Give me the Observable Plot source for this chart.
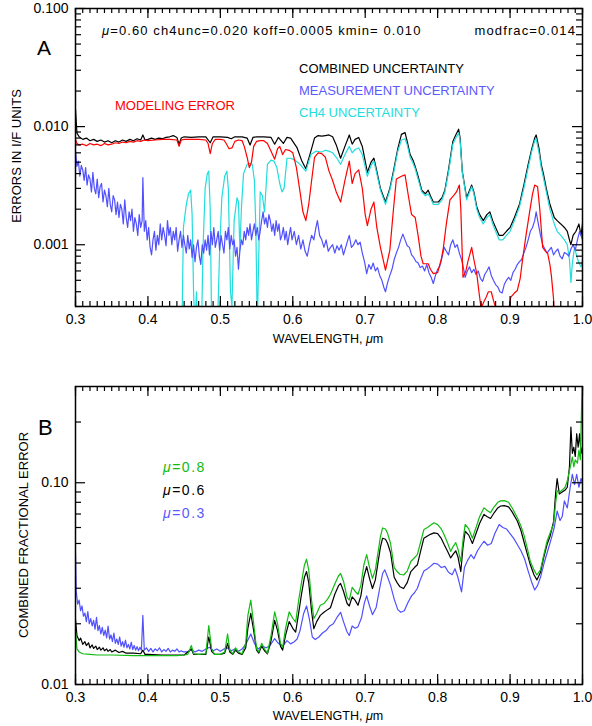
<!DOCTYPE html>
<html><head><meta charset="utf-8">
<script src="https://cdn.jsdelivr.net/npm/d3@7"></script>
<script src="https://cdn.jsdelivr.net/npm/@observablehq/plot@0.6"></script>
<style>
body{margin:0;background:#fff;}
#wrap{position:relative;width:592px;height:726px;overflow:hidden;background:#fff}
#pa{position:absolute;left:0;top:0}
#pb{position:absolute;left:0;top:350px}
#ov{position:absolute;left:0;top:0}
#ov text{font-family:"Liberation Sans",Arial,sans-serif;white-space:pre}
</style></head><body><div id="wrap"><div id="pa"></div><div id="pb"></div>
<svg id="ov" width="592" height="726">
 <text x="37" y="55" font-size="21">A</text>
 <text x="102" y="35" font-size="13" letter-spacing="1.1"><tspan font-style="italic">μ</tspan>=0.60 ch4unc=0.020 koff=0.0005 kmin= 0.010</text>
 <text x="576" y="35" font-size="13" letter-spacing="1.1" text-anchor="end">modfrac=0.014</text>
 <text x="299" y="73" font-size="13" fill="#000">COMBINED UNCERTAINTY</text>
 <text x="299" y="95" font-size="13" fill="#5a5aff">MEASUREMENT UNCERTAINTY</text>
 <text x="299" y="117" font-size="13" fill="#22dddd">CH4 UNCERTAINTY</text>
 <text x="115" y="110" font-size="13" fill="#ff0000">MODELING ERROR</text>
 <text x="328" y="343" font-size="12.5" text-anchor="middle">WAVELENGTH, <tspan font-style="italic">μ</tspan>m</text>
 <text transform="translate(21,156) rotate(-90)" font-size="13" text-anchor="middle">ERRORS IN I/F UNITS</text>
 <text x="38" y="435" font-size="22">B</text>
 <text x="163" y="472" font-size="14" letter-spacing="1.5" fill="#11bb11"><tspan font-style="italic">μ</tspan>=0.8</text>
 <text x="163" y="495" font-size="14" letter-spacing="1.5" fill="#000"><tspan font-style="italic">μ</tspan>=0.6</text>
 <text x="163" y="518" font-size="14" letter-spacing="1.5" fill="#5a5aff"><tspan font-style="italic">μ</tspan>=0.3</text>
 <text x="328" y="720" font-size="12.5" text-anchor="middle">WAVELENGTH, <tspan font-style="italic">μ</tspan>m</text>
 <text transform="translate(28,535) rotate(-90)" font-size="13" text-anchor="middle">COMBINED FRACTIONAL ERROR</text>
</svg>
</div>
<script>
// ---------- tick labels ----------
const xTickLabels = [0.3,0.4,0.5,0.6,0.7,0.8,0.9,1.0];
const yTicksA = [0.001,0.01,0.1];
const yMinorA = [0.0003,0.0004,0.0005,0.0006,0.0007,0.0008,0.0009,0.002,0.003,0.004,0.005,0.006,0.007,0.008,0.009,0.02,0.03,0.04,0.05,0.06,0.07,0.08,0.09];
const yTicksB = [0.01,0.1];
const yMinorB = [0.02,0.03,0.04,0.05,0.06,0.07,0.08,0.09,0.2];

// ---------- Panel A series: [wavelength (µm), error in I/F] ----------
const combinedA = [[0.300,0.0140],[0.302,0.0088],[0.305,0.0082],[0.31,0.0078],[0.315,0.0080],[0.32,0.0076],[0.325,0.0078],[0.33,0.0075],[0.335,0.0077],[0.34,0.0074],[0.345,0.0076],[0.35,0.0073],[0.355,0.0076],[0.36,0.0074],[0.365,0.0077],[0.37,0.0075],[0.375,0.0078],[0.38,0.0076],[0.385,0.0079],[0.39,0.0077],[0.393,0.0085],[0.396,0.0077],[0.40,0.0078],[0.405,0.0080],[0.41,0.0078],[0.415,0.0080],[0.42,0.0079],[0.425,0.0081],[0.43,0.0082],[0.435,0.0084],[0.44,0.0081],[0.443,0.0071],[0.446,0.0080],[0.45,0.0082],[0.46,0.0081],[0.47,0.0082],[0.48,0.0082],[0.486,0.0073],[0.49,0.0082],[0.50,0.0082],[0.51,0.0081],[0.515,0.0079],[0.52,0.0082],[0.53,0.0082],[0.537,0.0080],[0.541,0.0070],[0.545,0.0081],[0.55,0.0082],[0.56,0.0082],[0.57,0.0081],[0.575,0.0071],[0.58,0.0081],[0.587,0.0072],[0.592,0.0081],[0.597,0.0080],[0.606,0.0066],[0.612,0.0052],[0.618,0.0044],[0.625,0.0062],[0.630,0.0080],[0.635,0.0084],[0.640,0.0083],[0.645,0.0084],[0.650,0.0085],[0.655,0.0082],[0.660,0.0070],[0.666,0.0054],[0.672,0.0068],[0.678,0.0085],[0.682,0.0071],[0.686,0.0078],[0.691,0.0081],[0.696,0.0068],[0.703,0.0041],[0.708,0.0050],[0.712,0.0054],[0.716,0.0042],[0.721,0.0030],[0.728,0.0023],[0.734,0.0030],[0.739,0.0042],[0.745,0.0065],[0.750,0.0086],[0.755,0.0089],[0.758,0.0075],[0.762,0.0058],[0.766,0.0052],[0.769,0.0046],[0.773,0.0038],[0.778,0.0029],[0.783,0.0027],[0.787,0.0029],[0.790,0.0026],[0.794,0.0023],[0.801,0.0023],[0.806,0.0025],[0.810,0.0029],[0.815,0.0043],[0.821,0.0075],[0.825,0.0085],[0.829,0.0095],[0.831,0.0080],[0.834,0.0042],[0.840,0.0025],[0.847,0.0032],[0.850,0.0028],[0.854,0.0021],[0.858,0.0018],[0.863,0.0016],[0.868,0.0018],[0.872,0.0019],[0.876,0.0016],[0.880,0.0014],[0.885,0.0012],[0.890,0.0012],[0.895,0.0013],[0.900,0.0014],[0.906,0.0017],[0.913,0.0022],[0.919,0.0032],[0.925,0.0048],[0.930,0.0065],[0.934,0.0080],[0.936,0.0085],[0.940,0.0065],[0.943,0.0048],[0.946,0.0040],[0.950,0.0030],[0.955,0.0022],[0.961,0.0017],[0.965,0.0016],[0.970,0.0015],[0.975,0.0014],[0.979,0.0013],[0.982,0.0011],[0.984,0.0010],[0.987,0.0012],[0.991,0.0013],[0.995,0.0015],[0.998,0.0012],[1.000,0.0015]];

const ch4A = [[0.447,0.0002],[0.449,0.0014],[0.453,0.0022],[0.456,0.0027],[0.459,0.0029],[0.461,0.0018],[0.463,0.0004],[0.465,0.0002],[0.467,0.0004],[0.469,0.0002],[0.472,0.0003],[0.474,0.0002],[0.476,0.0009],[0.479,0.0030],[0.482,0.0040],[0.484,0.0042],[0.486,0.0020],[0.488,0.0002],[0.492,0.0001],[0.496,0.0002],[0.499,0.0009],[0.502,0.0025],[0.506,0.0038],[0.509,0.0042],[0.511,0.0030],[0.514,0.0004],[0.516,0.0003],[0.519,0.0016],[0.523,0.0025],[0.525,0.0023],[0.527,0.0009],[0.529,0.0020],[0.532,0.0040],[0.537,0.0048],[0.541,0.0049],[0.544,0.0048],[0.547,0.0035],[0.549,0.0014],[0.551,0.0002],[0.553,0.0008],[0.555,0.0028],[0.558,0.0026],[0.561,0.0019],[0.565,0.0048],[0.57,0.0052],[0.574,0.0051],[0.578,0.0045],[0.582,0.0033],[0.585,0.0028],[0.588,0.0030],[0.592,0.0054],[0.597,0.0054],[0.603,0.0052],[0.610,0.0048],[0.618,0.0042],[0.625,0.0058],[0.632,0.0062],[0.640,0.0061],[0.645,0.0063],[0.650,0.0062],[0.655,0.0060],[0.660,0.0055],[0.666,0.0048],[0.672,0.0058],[0.678,0.0068],[0.682,0.0060],[0.686,0.0064],[0.691,0.0066],[0.696,0.0058],[0.703,0.0038],[0.708,0.0047],[0.712,0.0051],[0.716,0.0040],[0.721,0.0029],[0.728,0.0022],[0.734,0.0029],[0.739,0.0040],[0.745,0.0062],[0.750,0.0077],[0.755,0.0079],[0.758,0.0070],[0.762,0.0055],[0.766,0.0049],[0.769,0.0044],[0.773,0.0036],[0.778,0.0028],[0.783,0.0026],[0.787,0.0027],[0.790,0.0025],[0.794,0.0022],[0.801,0.0022],[0.806,0.0024],[0.810,0.0028],[0.815,0.0041],[0.821,0.0071],[0.825,0.0080],[0.829,0.0088],[0.831,0.0076],[0.834,0.0041],[0.840,0.0024],[0.847,0.0031],[0.850,0.0027],[0.854,0.0020],[0.858,0.0017],[0.863,0.0015],[0.868,0.0017],[0.872,0.0018],[0.876,0.0015],[0.880,0.0013],[0.885,0.0011],[0.890,0.0011],[0.895,0.0012],[0.900,0.0013],[0.906,0.0016],[0.913,0.0021],[0.919,0.0030],[0.925,0.0045],[0.930,0.0062],[0.934,0.0076],[0.936,0.0079],[0.940,0.0060],[0.943,0.0045],[0.946,0.0037],[0.950,0.0028],[0.955,0.0020],[0.961,0.0015],[0.965,0.0013],[0.970,0.0012],[0.975,0.0011],[0.979,0.0010],[0.982,0.00075],[0.984,0.00048],[0.986,0.0007],[0.989,0.00095],[0.992,0.0008],[0.995,0.0007],[0.998,0.00065],[1.000,0.00075]];

const modelA = [[0.300,0.0078],[0.302,0.0072],[0.305,0.0070],[0.31,0.0071],[0.315,0.0069],[0.32,0.0072],[0.325,0.0070],[0.33,0.0071],[0.335,0.0069],[0.34,0.0072],[0.345,0.0070],[0.35,0.0071],[0.355,0.0073],[0.36,0.0072],[0.365,0.0074],[0.37,0.0073],[0.375,0.0075],[0.38,0.0074],[0.385,0.0076],[0.39,0.0075],[0.395,0.0077],[0.40,0.0076],[0.41,0.0077],[0.42,0.0078],[0.43,0.0078],[0.44,0.0077],[0.443,0.0068],[0.446,0.0077],[0.45,0.0078],[0.46,0.0078],[0.47,0.0078],[0.48,0.0077],[0.483,0.0072],[0.486,0.0059],[0.489,0.0072],[0.493,0.0078],[0.50,0.0078],[0.505,0.0077],[0.508,0.0072],[0.512,0.0065],[0.516,0.0066],[0.52,0.0075],[0.525,0.0077],[0.53,0.0076],[0.533,0.0068],[0.537,0.0055],[0.540,0.0045],[0.543,0.0050],[0.546,0.0068],[0.55,0.0075],[0.555,0.0076],[0.56,0.0076],[0.565,0.0072],[0.57,0.0062],[0.575,0.0053],[0.579,0.0065],[0.582,0.0068],[0.586,0.0058],[0.590,0.0064],[0.595,0.0063],[0.600,0.0060],[0.605,0.0045],[0.610,0.0028],[0.614,0.0019],[0.618,0.0016],[0.622,0.0022],[0.626,0.0035],[0.630,0.0055],[0.635,0.0060],[0.640,0.0059],[0.645,0.0055],[0.650,0.0042],[0.655,0.0035],[0.660,0.0028],[0.666,0.0023],[0.672,0.0035],[0.678,0.0051],[0.682,0.0033],[0.686,0.0040],[0.691,0.0043],[0.696,0.0030],[0.700,0.0018],[0.703,0.00145],[0.708,0.0020],[0.712,0.0023],[0.716,0.0014],[0.721,0.00095],[0.728,0.00061],[0.734,0.0009],[0.739,0.0020],[0.743,0.0036],[0.750,0.0038],[0.755,0.0039],[0.760,0.0025],[0.764,0.0018],[0.769,0.0017],[0.773,0.0012],[0.777,0.0008],[0.780,0.00069],[0.787,0.00069],[0.790,0.00062],[0.794,0.00057],[0.800,0.00058],[0.805,0.00075],[0.808,0.00095],[0.812,0.0015],[0.817,0.0024],[0.822,0.0026],[0.826,0.0028],[0.830,0.0032],[0.832,0.0020],[0.835,0.00053],[0.839,0.0006],[0.842,0.00073],[0.847,0.00095],[0.850,0.00075],[0.854,0.00057],[0.857,0.0004],[0.860,0.00029],[0.864,0.00033],[0.867,0.00036],[0.870,0.00040],[0.874,0.00040],[0.877,0.00034],[0.881,0.00028],[0.885,0.0002],[0.893,0.0002],[0.898,0.00028],[0.901,0.00036],[0.906,0.00039],[0.910,0.00041],[0.914,0.00052],[0.917,0.00073],[0.922,0.0012],[0.927,0.0019],[0.931,0.0027],[0.934,0.0032],[0.938,0.0031],[0.941,0.0020],[0.945,0.00095],[0.949,0.00088],[0.952,0.00084],[0.955,0.00068],[0.957,0.00055],[0.960,0.00035],[0.962,0.0002]];

const measA = [[0.300,0.0062],[0.302,0.0046],[0.304,0.0051],[0.306,0.0038],[0.308,0.0047],[0.310,0.0043],[0.312,0.0035],[0.314,0.0045],[0.316,0.0032],[0.318,0.0039],[0.320,0.0036],[0.322,0.0028],[0.324,0.0041],[0.326,0.0030],[0.328,0.0027],[0.330,0.0036],[0.332,0.0025],[0.334,0.0031],[0.336,0.0033],[0.338,0.0023],[0.340,0.0029],[0.342,0.0026],[0.344,0.0021],[0.346,0.0030],[0.348,0.0022],[0.350,0.0019],[0.352,0.0026],[0.354,0.0024],[0.356,0.0018],[0.358,0.0023],[0.360,0.0017],[0.362,0.0022],[0.364,0.0020],[0.366,0.0015],[0.368,0.0024],[0.370,0.0017],[0.372,0.0014],[0.374,0.0019],[0.376,0.0016],[0.378,0.0020],[0.380,0.0013],[0.382,0.0017],[0.384,0.0015],[0.386,0.0012],[0.388,0.0018],[0.390,0.0014],[0.392,0.0016],[0.393,0.0037],[0.395,0.0013],[0.397,0.0016],[0.399,0.0011],[0.401,0.0014],[0.403,0.00095],[0.405,0.00082],[0.407,0.0011],[0.409,0.0013],[0.411,0.00090],[0.413,0.0012],[0.415,0.0010],[0.417,0.0015],[0.419,0.0011],[0.421,0.0014],[0.423,0.0012],[0.425,0.00098],[0.427,0.0016],[0.429,0.0012],[0.431,0.0014],[0.433,0.0010],[0.435,0.0013],[0.437,0.0011],[0.439,0.0014],[0.441,0.00088],[0.443,0.0011],[0.445,0.0013],[0.447,0.00095],[0.449,0.0012],[0.451,0.0010],[0.453,0.00085],[0.455,0.0012],[0.457,0.00092],[0.459,0.0011],[0.461,0.00078],[0.463,0.0010],[0.465,0.00072],[0.467,0.00095],[0.469,0.0011],[0.471,0.00080],[0.473,0.00068],[0.475,0.0010],[0.477,0.00085],[0.479,0.0011],[0.481,0.00090],[0.483,0.0012],[0.485,0.00082],[0.487,0.0013],[0.489,0.0010],[0.491,0.0014],[0.493,0.00095],[0.495,0.0011],[0.497,0.0013],[0.499,0.00090],[0.501,0.0012],[0.503,0.0010],[0.505,0.00085],[0.507,0.0013],[0.509,0.0011],[0.511,0.0014],[0.513,0.00092],[0.515,0.0012],[0.517,0.0010],[0.519,0.0011],[0.521,0.00080],[0.523,0.00095],[0.525,0.00062],[0.527,0.00090],[0.529,0.0011],[0.531,0.0010],[0.533,0.0013],[0.535,0.0011],[0.537,0.0014],[0.539,0.0012],[0.541,0.0015],[0.543,0.0011],[0.545,0.0013],[0.547,0.0015],[0.549,0.0012],[0.551,0.0014],[0.553,0.0011],[0.555,0.0013],[0.557,0.0016],[0.559,0.0019],[0.561,0.0015],[0.563,0.0017],[0.565,0.0014],[0.567,0.0018],[0.569,0.0016],[0.571,0.0013],[0.573,0.0015],[0.575,0.0012],[0.577,0.0016],[0.579,0.0013],[0.581,0.0015],[0.583,0.0011],[0.585,0.0012],[0.587,0.0014],[0.589,0.0011],[0.591,0.0013],[0.593,0.0010],[0.595,0.0012],[0.597,0.0014],[0.599,0.0011],[0.602,0.0013],[0.605,0.0010],[0.608,0.0012],[0.611,0.00092],[0.614,0.0011],[0.617,0.00088],[0.620,0.00080],[0.623,0.0010],[0.626,0.0012],[0.629,0.0011],[0.632,0.0014],[0.634,0.0016],[0.637,0.0012],[0.640,0.0011],[0.643,0.00095],[0.646,0.0011],[0.649,0.00088],[0.652,0.00095],[0.655,0.0010],[0.658,0.00085],[0.661,0.00098],[0.664,0.00090],[0.667,0.00100],[0.670,0.00082],[0.673,0.00095],[0.676,0.0011],[0.678,0.0012],[0.681,0.00095],[0.684,0.0010],[0.687,0.0011],[0.690,0.00100],[0.693,0.00105],[0.696,0.00085],[0.699,0.00072],[0.702,0.00057],[0.705,0.00068],[0.708,0.00062],[0.711,0.00070],[0.714,0.00060],[0.717,0.00064],[0.720,0.00055],[0.723,0.00050],[0.726,0.00043],[0.728,0.00040],[0.731,0.00048],[0.734,0.00055],[0.737,0.00062],[0.740,0.00075],[0.743,0.00085],[0.746,0.00095],[0.749,0.0011],[0.752,0.00123],[0.755,0.0011],[0.758,0.00098],[0.761,0.00095],[0.764,0.00082],[0.767,0.00078],[0.770,0.00072],[0.773,0.00070],[0.776,0.00064],[0.779,0.00066],[0.782,0.00060],[0.785,0.00068],[0.788,0.00058],[0.791,0.00053],[0.794,0.00047],[0.797,0.00055],[0.800,0.00062],[0.803,0.00066],[0.806,0.00078],[0.809,0.00095],[0.812,0.00088],[0.815,0.00082],[0.818,0.00100],[0.821,0.0011],[0.824,0.00095],[0.827,0.00100],[0.830,0.00085],[0.833,0.00075],[0.836,0.00062],[0.838,0.00053],[0.841,0.00060],[0.844,0.00065],[0.847,0.00058],[0.850,0.00062],[0.853,0.00056],[0.856,0.00060],[0.859,0.00052],[0.862,0.00049],[0.865,0.00056],[0.868,0.00060],[0.871,0.00065],[0.874,0.00055],[0.877,0.00050],[0.880,0.00046],[0.883,0.00044],[0.886,0.00040],[0.889,0.00039],[0.892,0.00046],[0.895,0.00050],[0.898,0.00053],[0.901,0.00050],[0.904,0.00058],[0.907,0.00062],[0.910,0.00068],[0.913,0.00072],[0.916,0.00075],[0.919,0.00085],[0.922,0.00095],[0.925,0.0011],[0.928,0.0013],[0.931,0.0014],[0.934,0.0016],[0.936,0.0019],[0.939,0.0015],[0.942,0.0012],[0.945,0.00100],[0.948,0.00092],[0.951,0.00085],[0.954,0.00090],[0.957,0.00095],[0.960,0.00082],[0.963,0.00088],[0.966,0.00092],[0.969,0.00080],[0.972,0.00076],[0.975,0.00086],[0.978,0.00084],[0.981,0.00080],[0.984,0.00092],[0.987,0.0010],[0.990,0.00090],[0.993,0.0011],[0.996,0.0013],[1.000,0.0011]];

// ---------- Panel B series: [wavelength (µm), combined fractional error] ----------
const mu08 = [[0.300,0.0185],[0.302,0.0150],[0.305,0.0145],[0.31,0.0142],[0.32,0.0141],[0.33,0.0140],[0.35,0.0140],[0.38,0.0139],[0.40,0.0139],[0.42,0.0139],[0.44,0.0139],[0.45,0.0140],[0.455,0.0141],[0.46,0.0156],[0.463,0.0142],[0.47,0.0141],[0.48,0.0142],[0.484,0.0196],[0.488,0.0150],[0.492,0.0141],[0.50,0.0141],[0.506,0.0145],[0.510,0.0178],[0.513,0.0148],[0.517,0.0142],[0.521,0.0152],[0.525,0.0145],[0.53,0.0142],[0.535,0.0160],[0.538,0.0220],[0.542,0.0262],[0.546,0.0200],[0.550,0.0150],[0.553,0.0145],[0.557,0.0160],[0.561,0.0150],[0.565,0.0143],[0.570,0.0175],[0.575,0.0229],[0.579,0.0200],[0.583,0.0160],[0.586,0.0153],[0.590,0.0190],[0.595,0.0229],[0.600,0.0213],[0.604,0.0204],[0.608,0.0260],[0.612,0.0320],[0.616,0.0390],[0.619,0.0418],[0.622,0.0370],[0.626,0.0260],[0.629,0.0212],[0.633,0.0225],[0.638,0.0247],[0.643,0.0252],[0.648,0.0265],[0.652,0.0280],[0.658,0.0315],[0.663,0.0345],[0.666,0.0355],[0.670,0.0325],[0.675,0.0270],[0.678,0.0262],[0.682,0.0303],[0.686,0.0290],[0.690,0.0280],[0.694,0.0310],[0.698,0.0390],[0.702,0.0440],[0.706,0.0380],[0.710,0.0336],[0.714,0.0370],[0.718,0.0460],[0.721,0.0540],[0.724,0.0597],[0.728,0.0590],[0.731,0.0560],[0.735,0.0500],[0.740,0.0380],[0.744,0.0363],[0.748,0.0352],[0.753,0.0349],[0.758,0.0365],[0.763,0.0407],[0.768,0.0425],[0.772,0.0440],[0.776,0.0500],[0.781,0.0586],[0.786,0.0600],[0.790,0.0615],[0.795,0.0633],[0.800,0.0620],[0.805,0.0590],[0.809,0.0553],[0.814,0.0500],[0.818,0.0457],[0.821,0.0480],[0.825,0.0505],[0.828,0.0470],[0.832,0.0407],[0.835,0.0520],[0.838,0.0621],[0.843,0.0590],[0.848,0.0531],[0.853,0.0600],[0.858,0.0680],[0.864,0.0751],[0.868,0.0730],[0.873,0.0711],[0.878,0.0760],[0.883,0.0800],[0.887,0.0813],[0.892,0.0815],[0.898,0.0800],[0.903,0.0750],[0.910,0.0670],[0.915,0.0610],[0.919,0.0553],[0.924,0.0470],[0.928,0.0407],[0.933,0.0370],[0.937,0.0349],[0.942,0.0370],[0.946,0.0430],[0.951,0.0513],[0.955,0.0560],[0.960,0.0621],[0.963,0.0800],[0.965,0.0912],[0.969,0.0900],[0.972,0.0920],[0.976,0.0950],[0.979,0.1020],[0.982,0.1150],[0.986,0.1340],[0.988,0.1200],[0.990,0.1300],[0.993,0.1250],[0.995,0.1450],[0.997,0.1300],[0.999,0.2600],[1.000,0.3000]];

const mu06 = [[0.300,0.0210],[0.302,0.0175],[0.305,0.0165],[0.307,0.0170],[0.31,0.0158],[0.313,0.0163],[0.315,0.0156],[0.318,0.0161],[0.32,0.0152],[0.323,0.0157],[0.325,0.0151],[0.328,0.0155],[0.33,0.0149],[0.333,0.0153],[0.335,0.0148],[0.338,0.0152],[0.34,0.0147],[0.343,0.0150],[0.345,0.0146],[0.348,0.0149],[0.35,0.0145],[0.355,0.0148],[0.36,0.0144],[0.365,0.0146],[0.37,0.0143],[0.38,0.0143],[0.39,0.0142],[0.393,0.0148],[0.396,0.0141],[0.40,0.0141],[0.42,0.0140],[0.44,0.0140],[0.45,0.0140],[0.46,0.0150],[0.463,0.0141],[0.48,0.0141],[0.484,0.0172],[0.488,0.0146],[0.492,0.0141],[0.50,0.0141],[0.506,0.0143],[0.510,0.0160],[0.513,0.0145],[0.517,0.0141],[0.521,0.0148],[0.525,0.0143],[0.53,0.0141],[0.535,0.0152],[0.538,0.0190],[0.542,0.0225],[0.546,0.0185],[0.550,0.0148],[0.553,0.0143],[0.557,0.0155],[0.561,0.0147],[0.565,0.0142],[0.570,0.0165],[0.575,0.0208],[0.579,0.0185],[0.583,0.0155],[0.586,0.0148],[0.590,0.0175],[0.595,0.0205],[0.600,0.0190],[0.604,0.0182],[0.608,0.0225],[0.612,0.0280],[0.616,0.0340],[0.619,0.0363],[0.622,0.0320],[0.626,0.0230],[0.629,0.0189],[0.633,0.0205],[0.638,0.0220],[0.643,0.0228],[0.648,0.0235],[0.652,0.0240],[0.658,0.0280],[0.663,0.0308],[0.666,0.0317],[0.670,0.0290],[0.675,0.0252],[0.678,0.0245],[0.682,0.0272],[0.686,0.0262],[0.690,0.0247],[0.694,0.0275],[0.698,0.0340],[0.702,0.0384],[0.706,0.0335],[0.710,0.0299],[0.714,0.0330],[0.718,0.0410],[0.721,0.0480],[0.724,0.0531],[0.728,0.0525],[0.731,0.0500],[0.735,0.0450],[0.740,0.0340],[0.744,0.0320],[0.748,0.0305],[0.753,0.0299],[0.758,0.0320],[0.763,0.0363],[0.768,0.0380],[0.772,0.0392],[0.776,0.0450],[0.781,0.0531],[0.786,0.0545],[0.790,0.0555],[0.795,0.0564],[0.800,0.0560],[0.805,0.0530],[0.809,0.0494],[0.814,0.0455],[0.818,0.0424],[0.821,0.0440],[0.825,0.0460],[0.828,0.0430],[0.832,0.0363],[0.835,0.0480],[0.838,0.0575],[0.843,0.0550],[0.848,0.0500],[0.853,0.0560],[0.858,0.0630],[0.864,0.0697],[0.868,0.0680],[0.873,0.0665],[0.878,0.0710],[0.883,0.0750],[0.887,0.0767],[0.892,0.0770],[0.898,0.0760],[0.903,0.0715],[0.910,0.0646],[0.915,0.0580],[0.919,0.0513],[0.924,0.0440],[0.928,0.0392],[0.933,0.0350],[0.937,0.0330],[0.942,0.0360],[0.946,0.0420],[0.951,0.0494],[0.955,0.0540],[0.960,0.0640],[0.963,0.0895],[0.965,0.1050],[0.968,0.0880],[0.972,0.0900],[0.976,0.0920],[0.979,0.0950],[0.982,0.1200],[0.984,0.1890],[0.986,0.1400],[0.988,0.1500],[0.990,0.1350],[0.992,0.1750],[0.994,0.1500],[0.996,0.1750],[0.998,0.1400],[1.000,0.1500]];

const mu03 = [[0.300,0.0450],[0.301,0.0290],[0.303,0.0250],[0.305,0.0262],[0.307,0.0232],[0.309,0.0245],[0.311,0.0218],[0.313,0.0226],[0.315,0.0205],[0.317,0.0230],[0.319,0.0200],[0.321,0.0212],[0.323,0.0195],[0.325,0.0208],[0.327,0.0188],[0.329,0.0215],[0.331,0.0185],[0.333,0.0196],[0.335,0.0178],[0.337,0.0192],[0.339,0.0175],[0.341,0.0186],[0.343,0.0170],[0.345,0.0195],[0.347,0.0168],[0.349,0.0176],[0.351,0.0163],[0.353,0.0180],[0.355,0.0160],[0.357,0.0168],[0.359,0.0158],[0.361,0.0172],[0.363,0.0155],[0.365,0.0163],[0.367,0.0153],[0.369,0.0166],[0.371,0.0152],[0.373,0.0158],[0.375,0.0150],[0.377,0.0162],[0.379,0.0149],[0.381,0.0156],[0.383,0.0148],[0.385,0.0154],[0.387,0.0147],[0.389,0.0153],[0.391,0.0148],[0.393,0.0220],[0.395,0.0148],[0.398,0.0152],[0.401,0.0146],[0.404,0.0151],[0.407,0.0145],[0.410,0.0150],[0.413,0.0147],[0.416,0.0152],[0.419,0.0145],[0.422,0.0149],[0.425,0.0146],[0.428,0.0151],[0.431,0.0145],[0.434,0.0148],[0.437,0.0146],[0.440,0.0150],[0.443,0.0145],[0.446,0.0147],[0.449,0.0145],[0.455,0.0145],[0.46,0.0149],[0.465,0.0145],[0.47,0.0148],[0.475,0.0146],[0.48,0.0150],[0.485,0.0153],[0.49,0.0147],[0.495,0.0150],[0.50,0.0146],[0.505,0.0150],[0.51,0.0152],[0.515,0.0147],[0.52,0.0150],[0.525,0.0146],[0.53,0.0150],[0.535,0.0158],[0.542,0.0178],[0.547,0.0160],[0.552,0.0150],[0.558,0.0155],[0.563,0.0152],[0.568,0.0155],[0.575,0.0169],[0.580,0.0160],[0.586,0.0155],[0.592,0.0165],[0.597,0.0159],[0.602,0.0163],[0.606,0.0168],[0.610,0.0185],[0.615,0.0225],[0.619,0.0245],[0.623,0.0210],[0.627,0.0172],[0.631,0.0167],[0.636,0.0172],[0.641,0.0180],[0.646,0.0185],[0.651,0.0195],[0.656,0.0200],[0.661,0.0215],[0.666,0.0228],[0.670,0.0205],[0.675,0.0182],[0.678,0.0175],[0.682,0.0195],[0.686,0.0190],[0.690,0.0193],[0.695,0.0215],[0.699,0.0255],[0.702,0.0275],[0.706,0.0245],[0.710,0.0222],[0.715,0.0240],[0.720,0.0300],[0.724,0.0355],[0.727,0.0370],[0.731,0.0340],[0.735,0.0310],[0.740,0.0265],[0.745,0.0235],[0.749,0.0228],[0.754,0.0232],[0.759,0.0255],[0.764,0.0275],[0.768,0.0285],[0.772,0.0300],[0.776,0.0330],[0.781,0.0365],[0.786,0.0375],[0.790,0.0385],[0.795,0.0399],[0.800,0.0395],[0.805,0.0380],[0.810,0.0385],[0.815,0.0360],[0.820,0.0350],[0.824,0.0375],[0.828,0.0340],[0.833,0.0288],[0.837,0.0380],[0.841,0.0410],[0.846,0.0440],[0.850,0.0420],[0.855,0.0460],[0.860,0.0490],[0.864,0.0513],[0.869,0.0490],[0.874,0.0500],[0.879,0.0560],[0.885,0.0621],[0.890,0.0600],[0.895,0.0590],[0.900,0.0560],[0.905,0.0530],[0.910,0.0494],[0.915,0.0460],[0.920,0.0420],[0.925,0.0365],[0.930,0.0320],[0.934,0.0294],[0.938,0.0310],[0.942,0.0340],[0.947,0.0400],[0.952,0.0460],[0.957,0.0530],[0.961,0.0600],[0.965,0.0724],[0.969,0.0650],[0.972,0.0680],[0.975,0.0813],[0.979,0.0750],[0.983,0.0950],[0.986,0.1100],[0.989,0.0980],[0.992,0.1100],[0.995,0.0950],[0.998,0.1050],[1.000,0.1000]];

// ---------- drawing ----------
const xMinor = d3.range(30, 101).map(d => d / 100);
const toObj = arr => arr.map(([w, v]) => ({w, v}));
const FONT = '"Liberation Sans", Arial, sans-serif';

function panel({height, mt, mb, ydomain, yTicks, yMinor, yFmt, series}) {
  const ml = 75, mr = 10, W = 592;
  const fw = W - ml - mr, fh = height - mt - mb;
  const tk = {stroke: "black", strokeWidth: 1.2};
  return Plot.plot({
    width: W, height, marginLeft: ml, marginRight: mr, marginTop: mt, marginBottom: mb,
    style: {fontFamily: FONT, fontSize: "14px", background: "transparent", color: "black"},
    x: {domain: [0.3, 1.0]},
    y: {type: "log", domain: ydomain},
    marks: [
      ...series.map(s => Plot.line(toObj(s.data), {x: "w", y: "v", stroke: s.color, strokeWidth: 1.2, clip: true})),
      Plot.frame({stroke: "black", strokeWidth: 1.5}),
      Plot.tickX(xTickLabels, {x: d => d, insetTop: fh - 10, ...tk}),
      Plot.tickX(xTickLabels, {x: d => d, insetBottom: fh - 10, ...tk}),
      Plot.tickX(xMinor, {x: d => d, insetTop: fh - 5, ...tk}),
      Plot.tickX(xMinor, {x: d => d, insetBottom: fh - 5, ...tk}),
      Plot.tickY(yTicks, {y: d => d, insetRight: fw - 10, ...tk}),
      Plot.tickY(yTicks, {y: d => d, insetLeft: fw - 10, ...tk}),
      Plot.tickY(yMinor, {y: d => d, insetRight: fw - 6, ...tk}),
      Plot.tickY(yMinor, {y: d => d, insetLeft: fw - 6, ...tk}),
      Plot.axisX(xTickLabels, {tickSize: 0, tickPadding: 8, tickFormat: d3.format(".1f"), label: null, fontSize: 14}),
      Plot.axisY(yTicks, {tickSize: 0, tickPadding: 7, tickFormat: d3.format(yFmt), label: null, fontSize: 14})
    ]
  });
}

document.getElementById("pa").append(panel({
  height: 350, mt: 8, mb: 44, ydomain: [0.0003, 0.1], yTicks: yTicksA, yMinor: yMinorA, yFmt: ".3f",
  series: [
    {data: combinedA, color: "#000000"},
    {data: ch4A, color: "#22dddd"},
    {data: measA, color: "#5050ff"},
    {data: modelA, color: "#ff0000"}
  ]
}));

document.getElementById("pb").append(panel({
  height: 376, mt: 36, mb: 42, ydomain: [0.01, 0.3], yTicks: yTicksB, yMinor: yMinorB, yFmt: ".2f",
  series: [
    {data: mu03, color: "#5050ff"},
    {data: mu06, color: "#000000"},
    {data: mu08, color: "#11bb11"}
  ]
}));
</script>
</body></html>
